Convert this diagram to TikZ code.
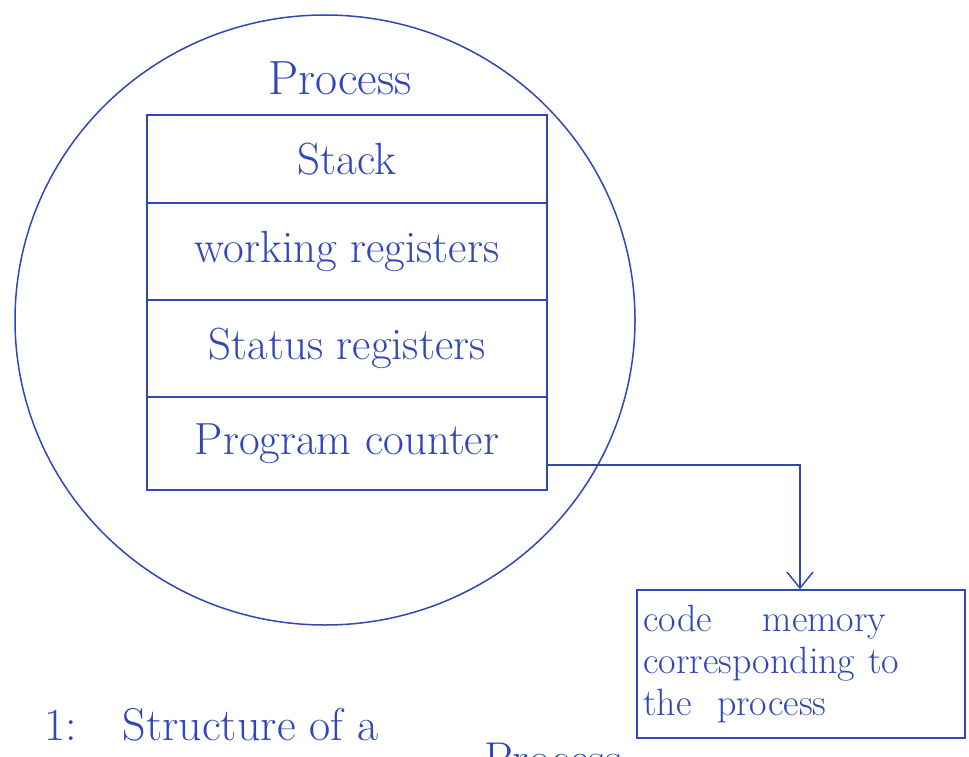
\documentclass[tikz,border=0pt]{standalone}
\usepackage{fontspec}
\usetikzlibrary{arrows.meta,shapes.geometric}
\definecolor{ink}{RGB}{48,70,185}
\begin{document}
\begin{tikzpicture}[x=1pt,y=-1pt, line width=1.5pt, draw=ink,
  big/.style={text=ink, font=\fontsize{45}{50}\selectfont},
  row/.style={draw=ink, rectangle, minimum width=400pt, inner sep=0pt, big},
  memtext/.style={text=ink, font=\fontsize{38}{42}\selectfont, align=left}]
\useasboundingbox (0,0) rectangle (969,757);
\clip (0,0) rectangle (969,757);
\fill[white] (0,0) rectangle (969,757);

% process outline
\node[draw=ink, ellipse, minimum width=620pt, minimum height=610pt] (proc) at (325,320) {};
\node[big, font=\fontsize{48}{52}\selectfont] (title) at (340,78) {Process};

% process context rows
\node[row, minimum height=88pt] (stackrow)  at (347,159)   {Stack};
\node[row, minimum height=97pt] (workrow)   at (347,251.5) {working registers};
\node[row, minimum height=97pt] (statusrow) at (347,348.5) {Status registers};
\node[row, minimum height=93pt] (pcrow)     at (347,443.5) {Program counter};

% code memory box
\node[draw=ink, rectangle, minimum width=328pt, minimum height=148pt, inner sep=0pt,
      text width=315pt, memtext] (mem) at (801,664)
  {code \quad memory\\corresponding to\\the \ process};

% program counter points into code memory
\coordinate (bend) at (800,465);
\draw[ink, -{Straight Barb[length=16pt,width=26pt]}]
  (pcrow.east |- bend) -- (bend) -- (bend |- mem.north);

% caption
\node[big, anchor=base west, font=\fontsize{46}{50}\selectfont] (cap) at (40,740) {1:\quad Structure of a};
\node[big, anchor=base west, font=\fontsize{46}{50}\selectfont] (capend) at (480,774) {Process};
\end{tikzpicture}
\end{document}
